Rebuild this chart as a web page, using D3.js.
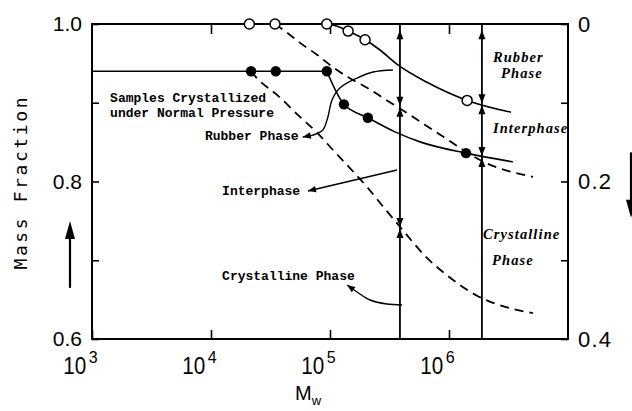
<!DOCTYPE html>
<html>
<head>
<meta charset="utf-8">
<script src="https://cdn.jsdelivr.net/npm/d3@7"></script>
<style>
  body { margin: 0; background: #fff; }
  svg { display: block; }
</style>
</head>
<body>
<svg id="chart" width="632" height="411"></svg>
<script>
// ---- axis ticks ----
const xTickValues = [1e3, 1e4, 1e5, 1e6];
const xTickExponents = ["3", "4", "5", "6"];
const xTopTickValues = [1e4, 1e5, 1e6];
const yTickValues = [0.6, 0.7, 0.8, 0.9, 1.0];
const yTickLabels = ["0.6", "", "0.8", "", "1.0"];
const rightTickValues = [0, 0.1, 0.2, 0.3, 0.4];
const rightTickLabels = ["0", "", "0.2", "", "0.4"];

// ---- measured samples ----
const openMw = [2.1e4, 3.45e4, 9.4e4, 1.42e5, 1.97e5, 1.42e6];
const openFrac = [1.0, 1.0, 1.0, 0.991, 0.980, 0.903];
const filledMw = [2.17e4, 3.5e4, 9.4e4, 1.31e5, 2.08e5, 1.39e6];
const filledFrac = [0.94, 0.94, 0.94, 0.898, 0.881, 0.836];

// ---- rubber / interphase boundary (solid, through open circles) ----
const rubberMw = [9.4e4, 1.21e5, 1.42e5, 1.97e5, 2.63e5, 3.72e5, 6.53e5, 1.42e6, 3.32e6];
const rubberFrac = [1.0, 0.996, 0.991, 0.980, 0.967, 0.948, 0.926, 0.903, 0.888];

// ---- interphase / crystalline boundary (solid, through filled circles) ----
const plateauMw = [1e3, 9.4e4];
const plateauFrac = [0.94, 0.94];
const crystMw = [9.4e4, 1.31e5, 2.08e5, 3.52e5, 5.79e5, 1.39e6, 3.44e6];
const crystFrac = [0.94, 0.898, 0.881, 0.863, 0.850, 0.836, 0.825];

// ---- dashed boundaries ----
const dashUpperMw = [3.45e4, 4.36e4, 5.6e4, 7.78e4, 1.06e5, 1.47e5, 2.05e5, 3.01e5, 4.44e5, 8.91e5, 2.08e6, 5.08e6];
const dashUpperFrac = [1.0, 0.989, 0.976, 0.961, 0.945, 0.931, 0.919, 0.903, 0.887, 0.857, 0.823, 0.806];
const dashLowerMw = [2.17e4, 2.44e4, 3.59e4, 5.6e4, 7.78e4, 1.06e5, 1.47e5, 2.05e5, 2.63e5, 3.95e5, 6.53e5, 9.62e5, 1.72e6, 3.26e6, 5.08e6];
const dashLowerFrac = [0.94, 0.931, 0.910, 0.882, 0.862, 0.840, 0.817, 0.793, 0.773, 0.741, 0.703, 0.681, 0.655, 0.639, 0.633];

// ---- vertical reading lines and the boundaries they meet ----
const readMw = [3.87e5, 1.89e6];
const readCross = [[0.895, 0.741], [0.898, 0.831]];
const readTopTip = 0.992;

// ---- callout curves (Mw, fraction) ----
const rubberCallout = [[3.38e5, 0.9416], [2.30e5, 0.939], [1.69e5, 0.9314], [1.21e5, 0.9187], [1.04e5, 0.9035], [9.6e4, 0.8819], [8.7e4, 0.8654], [7.2e4, 0.859], [5.9e4, 0.8565]];
const interCallout = [[3.66e5, 0.8146], [6.53e4, 0.788]];
const crystCallout = [[4.03e5, 0.6432], [3.01e5, 0.6444], [2.17e5, 0.6495], [1.69e5, 0.6597], [1.39e5, 0.6686]];

// ---- text annotations ----
const leftNotes = [
  { text: "Samples Crystallized", mw: 1.42e3, f: 0.901 },
  { text: "under Normal Pressure", mw: 1.42e3, f: 0.882 },
  { text: "Rubber Phase", mw: 8.9e3, f: 0.8527 },
  { text: "Interphase", mw: 1.24e4, f: 0.7829 },
  { text: "Crystalline Phase", mw: 1.24e4, f: 0.6749 }
];
const rightNotes = [
  { text: "Rubber", mw: 2.34e6, f: 0.9517 },
  { text: "Phase", mw: 2.74e6, f: 0.9314 },
  { text: "Interphase", mw: 2.34e6, f: 0.8616 },
  { text: "Crystalline", mw: 1.93e6, f: 0.727 },
  { text: "Phase", mw: 2.30e6, f: 0.694 }
];

const svg = d3.select("#chart");
const x = d3.scaleLog().domain([1e3, 1e7]).range([92, 568]);
const y = d3.scaleLinear().domain([0.6, 1.0]).range([339, 24]);
const yR = d3.scaleLinear().domain([0, 0.4]).range([24, 339]);

const zip = (a, b) => a.map((v, i) => [v, b[i]]);
const lineLinear = d3.line().x(d => x(d[0])).y(d => y(d[1]));
const lineMono = d3.line().x(d => x(d[0])).y(d => y(d[1])).curve(d3.curveMonotoneX);
const lineSmooth = d3.line().x(d => x(d[0])).y(d => y(d[1])).curve(d3.curveCatmullRom.alpha(0.5));

svg.append("defs").append("clipPath").attr("id", "plot")
  .append("rect").attr("x", x(1e3)).attr("y", y(1)).attr("width", x(1e7) - x(1e3)).attr("height", y(0.6) - y(1));

// ---- axes ----
const tickStyle = g => {
  g.select(".domain").remove();
  g.selectAll(".tick line").attr("stroke", "#000").attr("stroke-width", 1.6);
};

svg.append("g").attr("transform", `translate(${x(1e3)},0)`)
  .call(d3.axisLeft(y).tickValues(yTickValues).tickSizeInner(-7).tickSizeOuter(0).tickPadding(10)
    .tickFormat((d, i) => yTickLabels[i]))
  .call(tickStyle)
  .call(g => g.selectAll("text").attr("font-family", "Liberation Sans, Arial, sans-serif")
    .attr("font-size", 21).attr("fill", "#000"));

svg.append("g").attr("transform", `translate(${x(1e7)},0)`)
  .call(d3.axisRight(yR).tickValues(rightTickValues).tickSizeInner(-7).tickSizeOuter(0).tickPadding(10)
    .tickFormat((d, i) => rightTickLabels[i]))
  .call(tickStyle)
  .call(g => g.selectAll("text").attr("font-family", "Liberation Sans, Arial, sans-serif")
    .attr("font-size", 22).attr("letter-spacing", 1.2).attr("fill", "#000"));

svg.append("g").attr("transform", `translate(0,${y(1)})`)
  .call(d3.axisTop(x).tickValues(xTopTickValues).tickSizeInner(-10).tickSizeOuter(0).tickFormat(() => ""))
  .call(tickStyle);

// bottom axis: powers of ten written as "10" with a raised exponent
const bottom = svg.append("g").attr("transform", `translate(0,${y(0.6)})`)
  .call(d3.axisBottom(x).tickValues(xTickValues).tickSizeInner(-9).tickSizeOuter(0).tickFormat(() => ""))
  .call(tickStyle);
bottom.selectAll(".tick").each(function (d, i) {
  const t = d3.select(this);
  t.select("text").remove();
  const label = t.append("text").attr("x", -12).attr("y", 35)
    .attr("font-family", "Liberation Sans, Arial, sans-serif").attr("fill", "#000");
  label.append("tspan").attr("font-size", 24).attr("textLength", 23).attr("lengthAdjust", "spacingAndGlyphs").text("10");
  label.append("tspan").attr("font-size", 16).attr("dx", 2.5).attr("dy", -11).text(xTickExponents[i]);
});

// frame
svg.append("rect").attr("x", x(1e3)).attr("y", y(1)).attr("width", x(1e7) - x(1e3)).attr("height", y(0.6) - y(1))
  .attr("fill", "none").attr("stroke", "#000").attr("stroke-width", 2);

// ---- axis titles ----
svg.append("text").attr("transform", `translate(27,${(y(0.6) + y(1)) / 2 + 2}) rotate(-90)`)
  .attr("text-anchor", "middle").attr("font-family", "DejaVu Sans Mono, monospace").attr("font-size", 18)
  .attr("textLength", 172).attr("lengthAdjust", "spacing").attr("fill", "#000")
  .text("Mass Fraction");

const mw = svg.append("text").attr("x", 295).attr("y", 400).attr("font-family", "Liberation Sans, Arial, sans-serif").attr("fill", "#000");
mw.append("tspan").attr("font-size", 20).text("M");
mw.append("tspan").attr("font-size", 13).attr("dy", 5).text("w");

// ---- direction arrows outside the frame ----
function bigArrow(xp, yFrom, yTip) {
  const dir = yTip < yFrom ? -1 : 1;
  svg.append("line").attr("x1", xp).attr("x2", xp).attr("y1", yFrom).attr("y2", yTip - dir * 8)
    .attr("stroke", "#000").attr("stroke-width", 2.2);
  svg.append("path").attr("d", `M${xp},${yTip} L${xp - 5},${yTip - dir * 18} L${xp + 5},${yTip - dir * 18} Z`).attr("fill", "#000");
}
bigArrow(70, y(0.665), y(0.75));
bigArrow(631, yR(0.163), yR(0.246));

// ---- boundaries ----
const solid = p => p.attr("fill", "none").attr("stroke", "#000").attr("stroke-width", 1.6);
svg.append("path").attr("d", lineLinear(zip(plateauMw, plateauFrac))).call(solid);
svg.append("path").attr("d", lineMono(zip(crystMw, crystFrac))).call(solid);
svg.append("path").attr("d", lineMono(zip(rubberMw, rubberFrac))).call(solid);
svg.append("path").attr("d", lineMono(zip(dashUpperMw, dashUpperFrac))).call(solid)
  .attr("stroke-width", 1.8).attr("stroke-dasharray", "9,6");
svg.append("path").attr("d", lineMono(zip(dashLowerMw, dashLowerFrac))).call(solid)
  .attr("stroke-width", 1.8).attr("stroke-dasharray", "9,6");

// ---- vertical reading lines with arrowheads ----
function smallHead(xp, yp, dir) { // dir: 1 points down, -1 points up
  svg.append("path").attr("d", `M${xp},${yp} L${xp - 3.5},${yp - dir * 9} L${xp + 3.5},${yp - dir * 9} Z`).attr("fill", "#000");
}
readMw.forEach((m, i) => {
  const xp = x(m);
  svg.append("line").attr("x1", xp).attr("x2", xp).attr("y1", y(1)).attr("y2", y(0.6))
    .attr("stroke", "#000").attr("stroke-width", 1.8);
  smallHead(xp, y(readTopTip), -1);
  readCross[i].forEach(f => {
    smallHead(xp, y(f) - 1, 1);
    smallHead(xp, y(f) + 1, -1);
  });
});

// ---- callouts ----
function callout(pts, gen) {
  svg.append("path").attr("d", gen(pts)).call(solid).attr("stroke-width", 1.4);
  const p1 = [x(pts[pts.length - 1][0]), y(pts[pts.length - 1][1])];
  const p0 = [x(pts[pts.length - 2][0]), y(pts[pts.length - 2][1])];
  const dx = p1[0] - p0[0], dy = p1[1] - p0[1], L = Math.hypot(dx, dy);
  const ux = dx / L, uy = dy / L, bx = p1[0] - ux * 8, by = p1[1] - uy * 8;
  svg.append("path").attr("d", `M${p1[0]},${p1[1]} L${bx - uy * 3.2},${by + ux * 3.2} L${bx + uy * 3.2},${by - ux * 3.2} Z`).attr("fill", "#000");
}
callout(rubberCallout, lineSmooth);
callout(interCallout, lineLinear);
callout(crystCallout, lineSmooth);

// ---- markers ----
svg.append("g").selectAll("circle").data(zip(openMw, openFrac)).join("circle")
  .attr("cx", d => x(d[0])).attr("cy", d => y(d[1])).attr("r", 5)
  .attr("fill", "#fff").attr("stroke", "#000").attr("stroke-width", 1.5);
svg.append("g").selectAll("circle").data(zip(filledMw, filledFrac)).join("circle")
  .attr("cx", d => x(d[0])).attr("cy", d => y(d[1])).attr("r", 5.2).attr("fill", "#000");

// ---- labels ----
svg.append("g").selectAll("text").data(leftNotes).join("text")
  .attr("x", d => x(d.mw)).attr("y", d => y(d.f))
  .attr("font-family", "Liberation Mono, Courier New, monospace").attr("font-weight", "bold")
  .attr("font-size", 13).attr("fill", "#000").text(d => d.text);

svg.append("g").attr("clip-path", "url(#plot)").selectAll("text").data(rightNotes).join("text")
  .attr("x", d => x(d.mw)).attr("y", d => y(d.f))
  .attr("font-family", "Liberation Serif, Times New Roman, serif").attr("font-weight", "bold").attr("font-style", "italic")
  .attr("font-size", 14.5).attr("letter-spacing", 1.1).attr("fill", "#000").text(d => d.text);
</script>
</body>
</html>
